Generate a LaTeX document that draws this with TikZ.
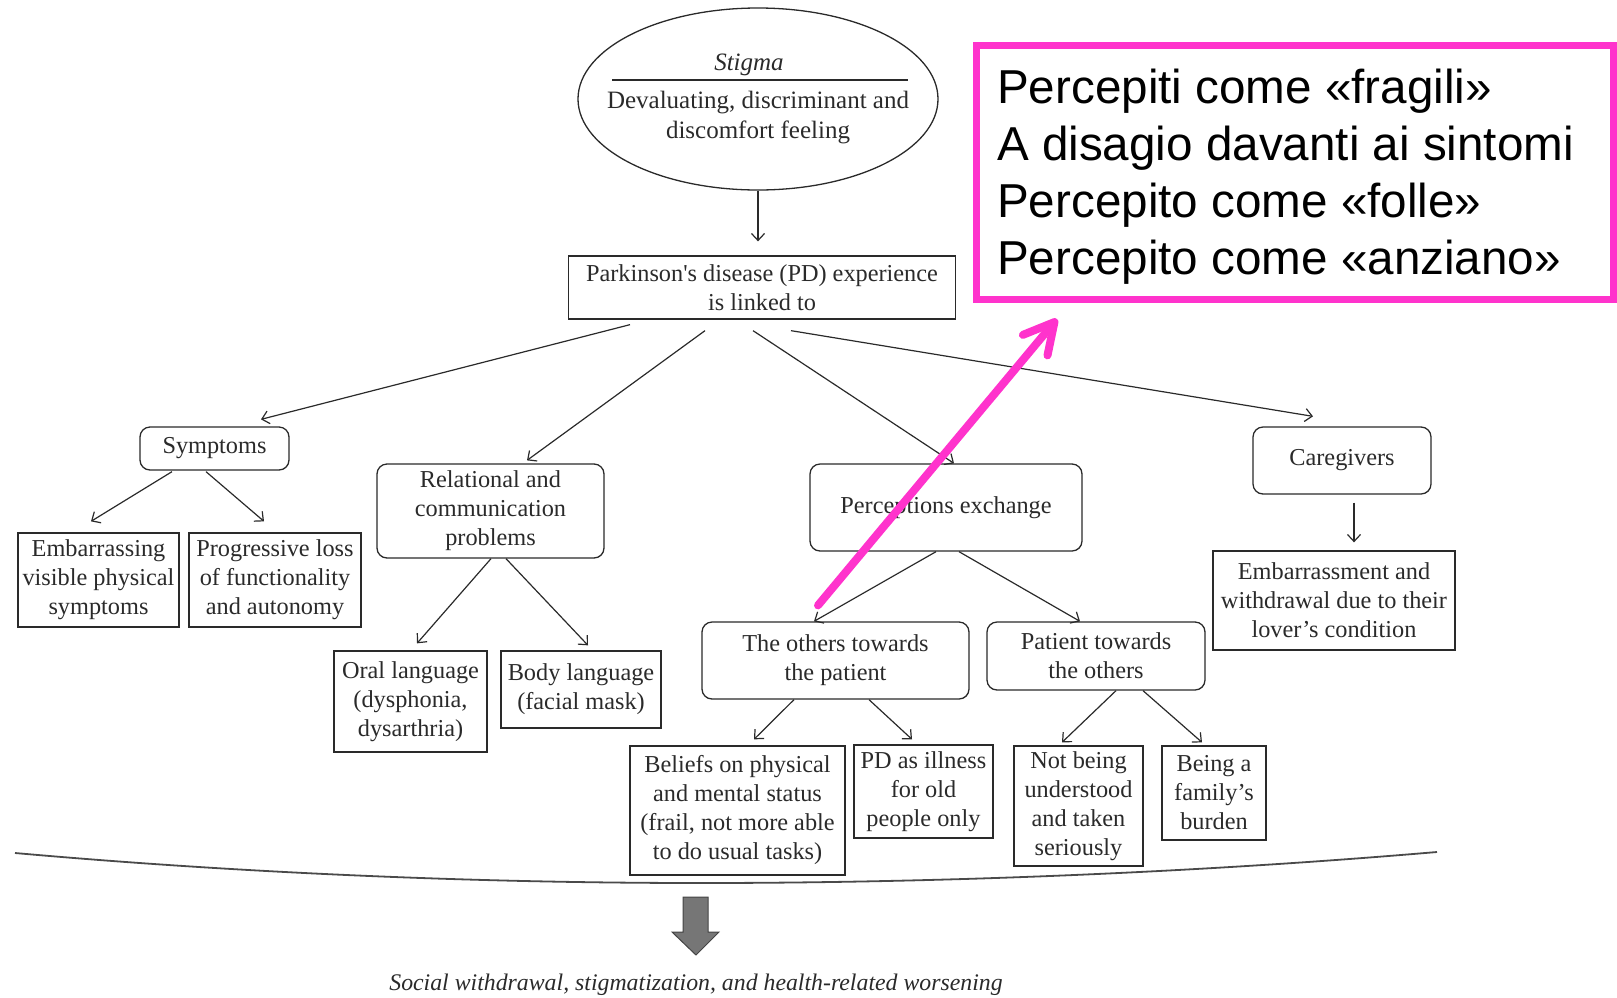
\documentclass[tikz,border=0pt]{standalone}
\usepackage{fontspec}
\setmainfont{Liberation Serif}
\newfontfamily\arialf{Liberation Sans}
\usetikzlibrary{arrows.meta,shapes.geometric,calc}
\definecolor{ink}{HTML}{2A2A2A}
\definecolor{mag}{RGB}{255,51,204}
\definecolor{blockgray}{HTML}{767676}
\definecolor{blockedge}{HTML}{444444}
\begin{document}
\begin{tikzpicture}[x=1pt,y=-1pt,
  every node/.style={text=ink, font=\fontsize{24.3}{29}\selectfont, align=center, inner sep=0pt},
  sq/.style={draw=ink, line width=1.3pt},
  rd/.style={draw=ink, line width=1.3pt, rounded corners=10pt},
  arr/.style={draw=ink, line width=1.2pt, -{Straight Barb[length=7pt,width=13pt]}},
  magarr/.style={draw=mag, line width=8pt, line cap=round, -{Straight Barb[length=30pt,width=32pt,round]}},
]
\useasboundingbox (0,0) rectangle (1617,997);

% top ellipse
\node[ellipse, draw=ink, line width=1.3pt, minimum width=360pt, minimum height=182pt] (ell) at (758,99) {};
\node[font=\fontsize{25}{30}\selectfont] (stig) at (749,65) {\textit{Stigma}};
\draw[ink, line width=1.3pt] ($(ell.center)+(-146,-19)$) -- ($(ell.center)+(150,-19)$);
\node[font=\fontsize{25}{30}\selectfont] (deval) at (758,117.5) {Devaluating, discriminant and\\discomfort feeling};

\node[sq, minimum width=387pt, minimum height=63pt] (pd) at (762,287.5) {Parkinson\textquotesingle s disease (PD) experience\\is linked to};

% left branch
\node[rd, minimum width=149pt, minimum height=43pt] (sym) at (214.5,448.5) {Symptoms};
\node[sq, minimum width=161pt, minimum height=94pt] (emb) at (98.5,580) {Embarrassing\\visible physical\\symptoms};
\node[sq, minimum width=172pt, minimum height=94pt] (prog) at (275,580) {Progressive loss\\of functionality\\and autonomy};

\node[rd, minimum width=227pt, minimum height=94pt] (rel) at (490.5,511) {Relational and\\communication\\problems};
\node[sq, minimum width=153pt, minimum height=101pt] (oral) at (410.5,701.5) {Oral language\\(dysphonia,\\dysarthria)};
\node[sq, minimum width=160pt, minimum height=77pt] (body) at (581,689.5) {Body language\\(facial mask)};

% perceptions
\node[rd, minimum width=272pt, minimum height=87pt] (perc) at (946,507.5) {Perceptions exchange};
\node[rd, minimum width=267pt, minimum height=77pt] (oth) at (835.5,660.5) {The others towards\\the patient};
\node[rd, minimum width=218pt, minimum height=68pt] (pat) at (1096,656) {Patient towards\\the others};
\node[sq, minimum width=215pt, minimum height=129pt] (bel) at (737.5,810.5) {Beliefs on physical\\and mental status\\(frail, not more able\\to do usual tasks)};
\node[sq, minimum width=139pt, minimum height=93pt] (old) at (923.5,791.5) {PD as illness\\for old\\people only};
\node[sq, minimum width=129pt, minimum height=120pt] (und) at (1078.5,806) {Not being\\understood\\and taken\\seriously};
\node[sq, minimum width=104pt, minimum height=94pt] (fam) at (1214,793) {Being a\\family's\\burden};

% caregivers
\node[rd, minimum width=178pt, minimum height=67pt] (care) at (1342,460.5) {Caregivers};
\node[sq, minimum width=242pt, minimum height=99pt] (emb2) at (1334,600.5) {Embarrassment and\\withdrawal due to their\\lover's condition};

% connectors
\draw[arr] (ell.south) -- ($(pd.north)+(-4,-14)$);
\draw[arr] ($(pd.south)+(-132,5)$) -- ($(sym.north)+(46.5,-7)$);
\draw[arr] ($(pd.south)+(-57,11)$) -- ($(rel.north)+(36.5,-3)$);
\draw[arr] ($(pd.south)+(-9,11)$) -- ($(perc.north)+(8,0)$);
\draw[arr] ($(pd.south)+(29,11)$) -- ($(care.north)+(-29,-10)$);

\draw[arr] ($(sym.south)+(-42.5,1)$) -- ($(emb.north)+(-7.5,-11)$);
\draw[arr] ($(sym.south)+(-8.5,1)$) -- ($(prog.north)+(-11,-11)$);

\draw[arr] ($(rel.south)+(0.5,0)$) -- ($(oral.north)+(6.5,-7)$);
\draw[arr] ($(rel.south)+(15.5,0)$) -- ($(body.north)+(7,-5)$);

\draw[arr] ($(perc.south)+(-10,0)$) -- ($(oth.north)+(-21.5,0)$);
\draw[arr] ($(perc.south)+(13,0)$) -- ($(pat.north)+(-16,0)$);

\draw[arr] ($(oth.south)+(-41.5,0)$) -- ($(bel.north)+(16.5,-6)$);
\draw[arr] ($(oth.south)+(33.5,0)$) -- ($(old.north)+(-11.5,-5)$);

\draw[arr] ($(pat.south)+(20,0)$) -- ($(und.north)+(-16.5,-3)$);
\draw[arr] ($(pat.south)+(47,0)$) -- ($(fam.north)+(-12,-3)$);

\draw[arr] ($(care.south)+(12,8)$) -- ($(emb2.north)+(20,-8)$);

% bottom arc and block arrow
\draw[ink!85, line width=1.8pt] (15,853) parabola bend (700,883) (1437,852);
\draw[blockedge, fill=blockgray, line width=1pt] (683,897) -- (708,897) -- (708,932) -- (719,932) -- (696,955) -- (672,932) -- (683,932) -- cycle;
\node[font=\fontsize{23.8}{28}\selectfont\itshape] (res) at (696,985) {Social withdrawal, stigmatization, and health-related worsening};

% magenta overlay
\node[draw=mag, line width=7pt, minimum width=637pt, minimum height=254pt] (mbox) at (1295,172.5) {};
\node[anchor=west, align=left, font=\arialf\fontsize{47.6}{57}\selectfont, text=black] (mtext) at (997,177) {Percepiti come «fragili»\\A disagio davanti ai sintomi\\Percepito come «folle»\\Percepito come «anziano»};
\draw[magarr] ($(oth.north)+(-17.5,-16)$) -- ($(mbox.south)+(-238,16)$);
\end{tikzpicture}
\end{document}
